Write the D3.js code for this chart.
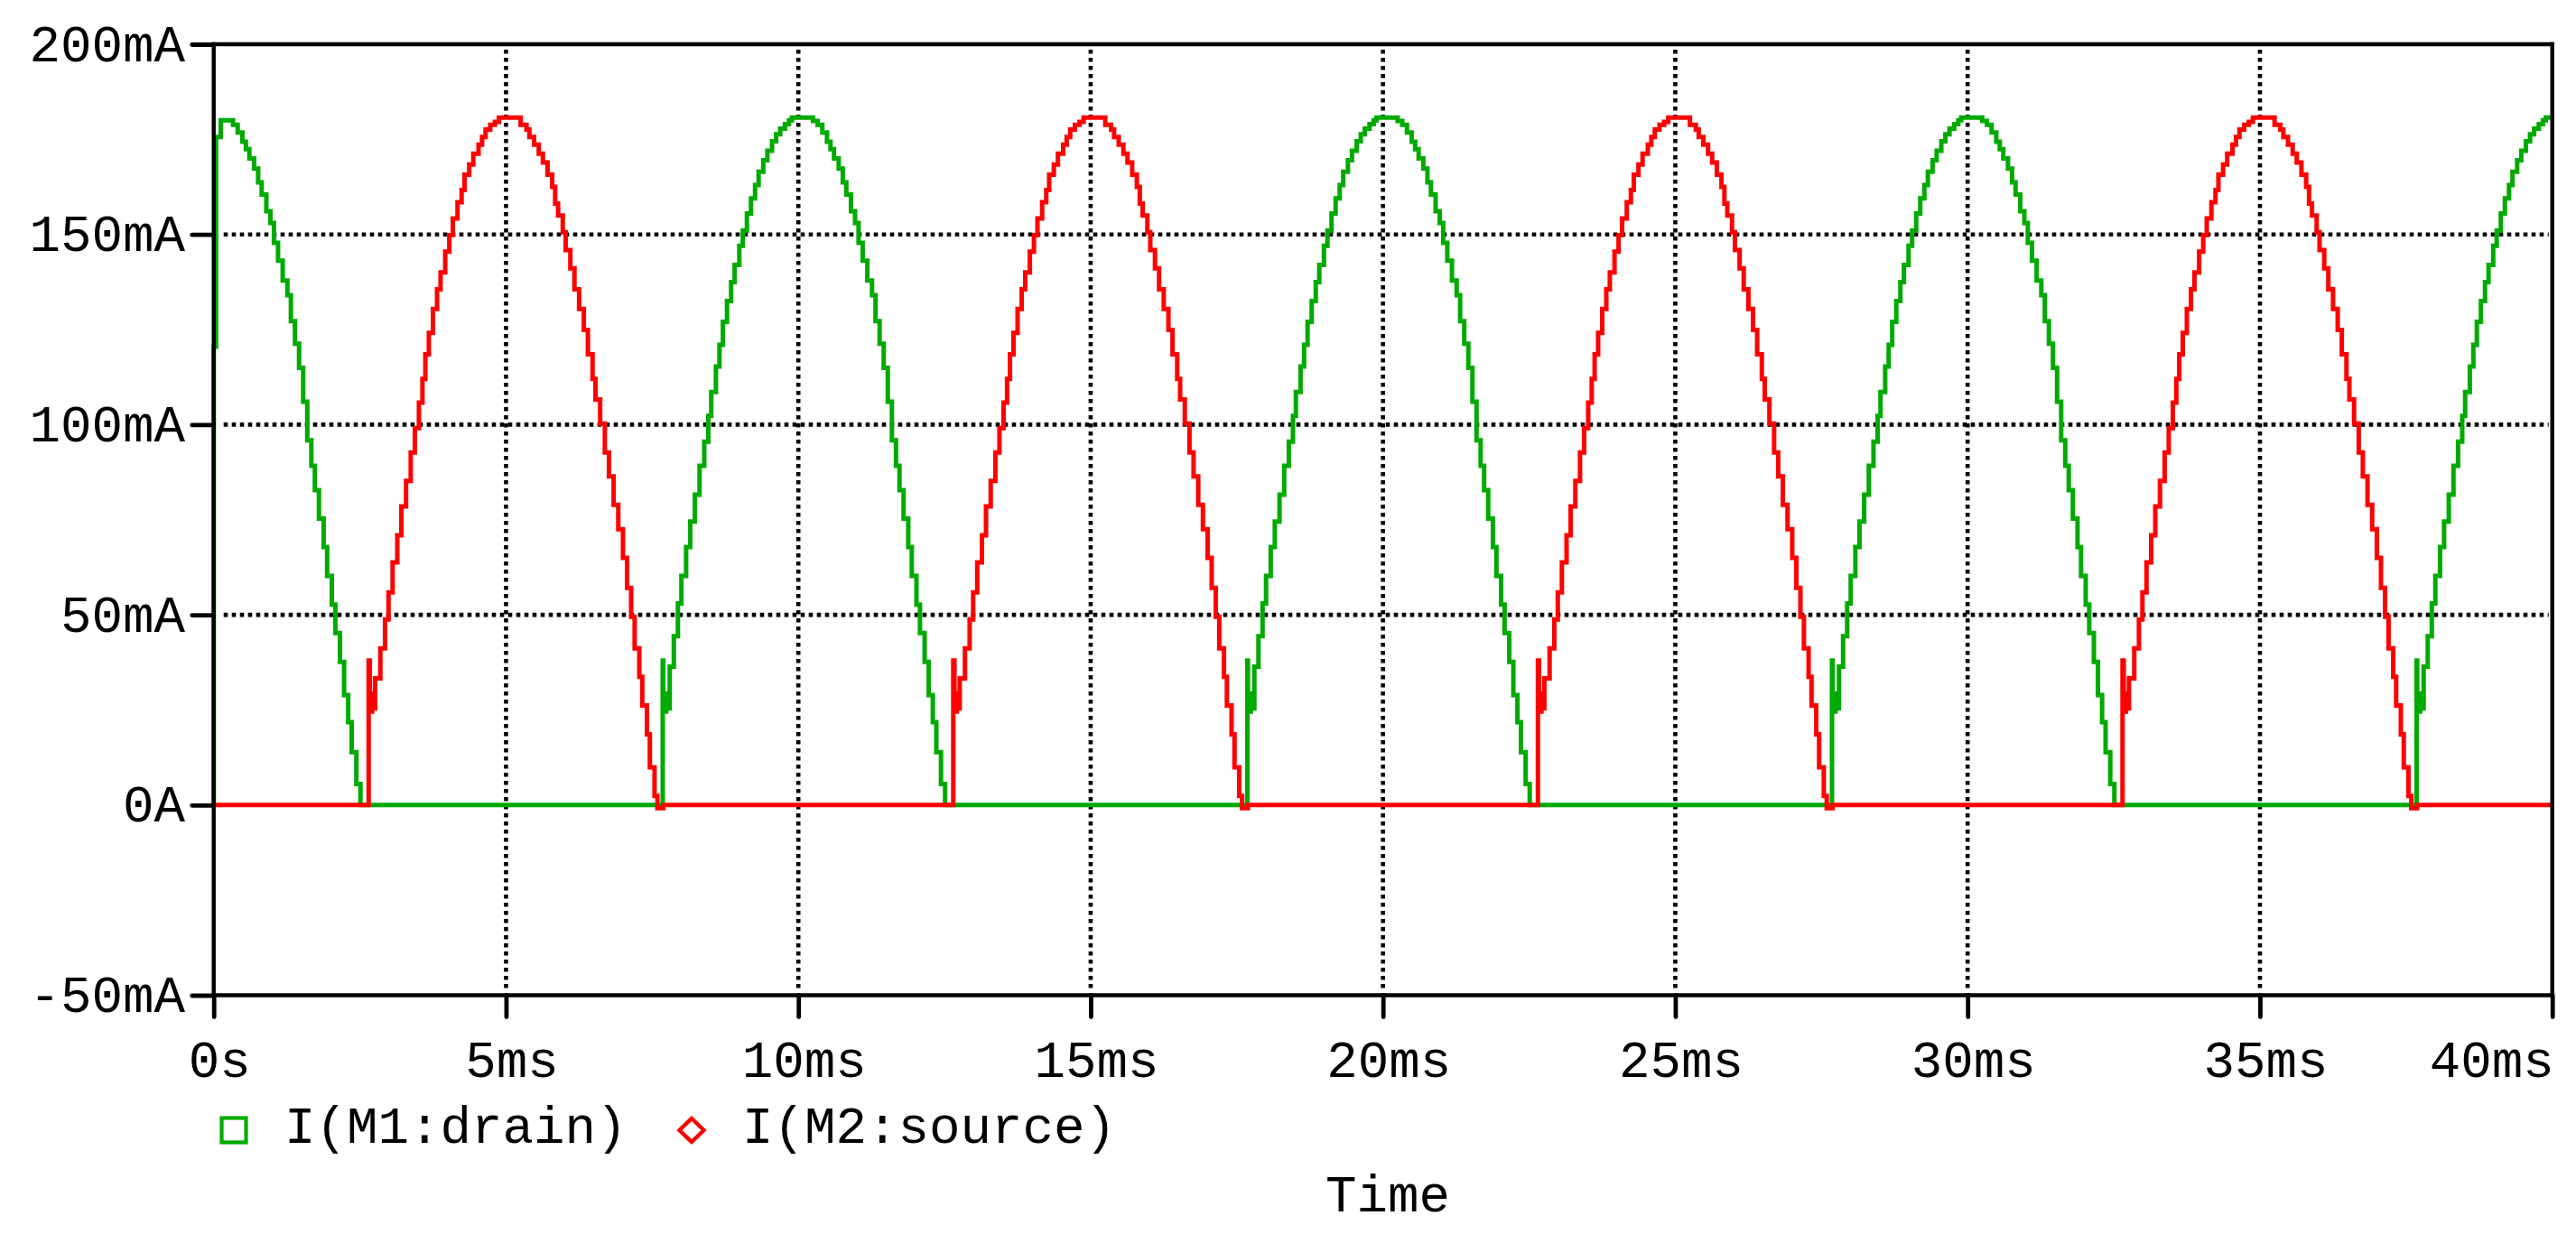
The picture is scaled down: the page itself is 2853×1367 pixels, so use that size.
<!DOCTYPE html>
<html><head><meta charset="utf-8">
<script src="https://cdn.jsdelivr.net/npm/d3@7"></script>
<style>html,body{margin:0;padding:0;background:#fff;overflow:hidden}</style>
</head><body>
<svg id="c" width="2853" height="1367"></svg>
<script>
// ---- axis data ----
const xTicks = [0, 5, 10, 15, 20, 25, 30, 35, 40];
const xTickLabels = ["0s", "5ms", "10ms", "15ms", "20ms", "25ms", "30ms", "35ms", "40ms"];
const yTicks = [-50, 0, 50, 100, 150, 200];
const yTickLabels = ["-50mA", "0A", "50mA", "100mA", "150mA", "200mA"];
const hGrid = [50, 100, 150];
const vGrid = [5, 10, 15, 20, 25, 30, 35];
const seriesNames = ["I(M1:drain)", "I(M2:source)"];
const xTitle = "Time";

// ---- I(M1:drain): first (start-up) half pulse, ms / mA ----
const greenFirstT = [0,0.001,0.04,0.12,0.28,0.33,0.41,0.49,0.55,0.61,0.69,0.76,0.82,0.90,0.97,1.03,1.10,1.18,1.26,1.32,1.39,1.46,1.53,1.60,1.67,1.73,1.80,1.88,1.94,2.02,2.08,2.16,2.23,2.30,2.36,2.44,2.51];
const greenFirstV = [0,120.5,175.6,180,180,178.8,176.8,174.4,172.4,170,167.3,163.7,160.5,156.1,153,147.8,143.1,137.9,134,127.2,121.3,114.9,106,95.9,89.2,82.8,75.3,67.8,60.2,52.7,45.2,37.6,28.9,21.8,13.9,5.5,0];
// I(M1:drain) pulse shape, time relative to pulse peak (ms) / mA
const greenPulseT = [-2.33,-2.32,-2.31,-2.26,-2.24,-2.20,-2.13,-2.06,-2.00,-1.92,-1.85,-1.77,-1.69,-1.61,-1.54,-1.49,-1.41,-1.35,-1.29,-1.22,-1.15,-1.09,-1.01,-0.95,-0.88,-0.81,-0.74,-0.68,-0.60,-0.53,-0.45,-0.38,-0.31,-0.23,-0.16,-0.11,0.16,0.25,0.33,0.41,0.49,0.55,0.61,0.69,0.76,0.82,0.90,0.97,1.03,1.10,1.18,1.26,1.32,1.39,1.46,1.53,1.60,1.67,1.73,1.80,1.88,1.94,2.02,2.08,2.16,2.23,2.30,2.36,2.44,2.51];
const greenPulseV = [0,38,24.6,29.3,25.4,36.4,44.4,53,60.2,67.8,74.5,81.6,89.2,95.5,102.3,108.6,115.3,121,127,132.5,137.5,142,147,151,155.5,159.5,163,166.5,169.5,172,174.5,176.3,177.8,179,180,180.7,180.7,179.8,178.8,176.8,174.4,172.4,170,167.3,163.7,160.5,156.1,153,147.8,143.1,137.9,134,127.2,121.3,114.9,106,95.9,89.2,82.8,75.3,67.8,60.2,52.7,45.2,37.6,28.9,21.8,13.9,5.5,0];
const greenPeaks = [10, 20, 30, 40];

// ---- I(M2:source) pulse shape, time relative to pulse peak (ms) / mA ----
const redPulseT = [-2.36,-2.35,-2.33,-2.29,-2.26,-2.24,-2.15,-2.07,-2.01,-1.94,-1.86,-1.79,-1.71,-1.63,-1.56,-1.49,-1.43,-1.38,-1.32,-1.25,-1.18,-1.12,-1.04,-0.97,-0.91,-0.83,-0.76,-0.71,-0.63,-0.56,-0.47,-0.41,-0.35,-0.27,-0.19,-0.12,0.15,0.25,0.35,0.40,0.48,0.56,0.63,0.71,0.79,0.84,0.89,0.97,1.02,1.10,1.17,1.25,1.33,1.40,1.48,1.53,1.61,1.69,1.76,1.84,1.92,2.00,2.07,2.14,2.20,2.28,2.33,2.41,2.46,2.54,2.59,2.69];
const redPulseV = [0,38,24.6,29.3,25.4,33.3,41.2,48.8,55.9,63.8,70.9,78.5,85.2,92.7,99.1,105.8,112,118.5,124.1,130.4,135.6,140,145.5,149.8,154.2,158.5,161.7,165.7,168.4,171.2,173.6,175.6,177.6,178.8,179.6,180.7,180.7,178.8,177.6,175.6,173.6,171.2,168.9,165.7,162.5,158.1,155,150.6,145.9,141.1,135.6,130.4,124.9,118.5,112,106.6,100.3,92.7,86.4,78.9,72.5,65,57.1,49.5,41.2,33.7,26.2,18.6,9.9,2.4,-0.8,0];
const redPeaks = [5, 15, 25, 35];

const GREEN = "#00aa00", RED = "#ff0000";
const W = 2853, H = 1367;
const L = 236.7, R = 2826.7, T = 49, B = 1102.5;
const FONT = '"Liberation Mono","Courier New",monospace';
const FS = 57.5;

const x = d3.scaleLinear().domain([0, 40]).range([L, R]);
const y = d3.scaleLinear().domain([-50, 200]).range([B, T]);
const svg = d3.select("#c");
svg.append("rect").attr("width", W).attr("height", H).attr("fill", "#fff");

// build series
function place(ts, vs, c) { return ts.map((t, i) => [c + t, vs[i]]); }
let greenData = greenFirstT.map((t, i) => [t, greenFirstV[i]]);
greenPeaks.forEach(c => { greenData = greenData.concat(place(greenPulseT, greenPulseV, c)); });
greenData = greenData.filter(d => d[0] <= 40);
greenData.push([40, greenData[greenData.length - 1][1]]);
let redData = [[0, 0]];
redPeaks.forEach(c => { redData = redData.concat(place(redPulseT, redPulseV, c)); });
redData.push([40, 0]);

// gridlines (dotted)
const grid = svg.append("g").attr("stroke", "#000").attr("stroke-width", 4.6)
  .attr("stroke-linecap", "butt").attr("stroke-dasharray", "4.6 4.4");
grid.selectAll("line.h").data(hGrid).join("line").attr("class", "h")
  .attr("x1", L + 11).attr("x2", R - 4).attr("y1", d => y(d)).attr("y2", d => y(d));
grid.selectAll("line.v").data(vGrid).join("line").attr("class", "v")
  .attr("x1", d => x(d)).attr("x2", d => x(d)).attr("y1", T + 6).attr("y2", B - 4);

// traces
const line = d3.line().x(d => x(d[0])).y(d => y(d[1])).curve(d3.curveStepAfter);
svg.append("path").datum(greenData).attr("d", line).attr("fill", "none")
  .attr("stroke", GREEN).attr("stroke-width", 5).attr("stroke-linejoin", "miter");
svg.append("path").datum(redData).attr("d", line).attr("fill", "none")
  .attr("stroke", RED).attr("stroke-width", 5).attr("stroke-linejoin", "miter");

// frame
const frame = svg.append("g").attr("stroke", "#000").attr("stroke-width", 4.4).attr("stroke-linecap", "square");
frame.append("line").attr("x1", L).attr("x2", R).attr("y1", T).attr("y2", T);
frame.append("line").attr("x1", L).attr("x2", R).attr("y1", B).attr("y2", B);
frame.append("line").attr("x1", L).attr("x2", L).attr("y1", T).attr("y2", B);
frame.append("line").attr("x1", R).attr("x2", R).attr("y1", T).attr("y2", B);

// axes
const yAxis = d3.axisLeft(y).tickValues(yTicks).tickFormat((d, i) => yTickLabels[i])
  .tickSize(24).tickSizeOuter(0).tickPadding(7.7);
const gy = svg.append("g").attr("transform", `translate(${L},0)`).call(yAxis);
gy.select(".domain").remove();
gy.selectAll(".tick line").attr("stroke", "#000").attr("stroke-width", 4.8).attr("stroke-linecap", "round");
gy.selectAll(".tick text").attr("font-family", FONT).attr("font-size", FS).attr("fill", "#000")
  .attr("dy", null).attr("y", 18);

const xAxis = d3.axisBottom(x).tickValues(xTicks).tickFormat((d, i) => xTickLabels[i])
  .tickSize(24).tickSizeOuter(0);
const gx = svg.append("g").attr("transform", `translate(0,${B})`).call(xAxis);
gx.select(".domain").remove();
gx.selectAll(".tick line").attr("stroke", "#000").attr("stroke-width", 4.8).attr("stroke-linecap", "round");
gx.selectAll(".tick text").attr("font-family", FONT).attr("font-size", FS).attr("fill", "#000")
  .attr("dy", null).attr("y", 90.5).attr("x", 6);
gx.selectAll(".tick text").filter((d, i) => i === xTicks.length - 1)
  .attr("text-anchor", "end").attr("x", 1.5);

// legend
const lg = svg.append("g").attr("font-family", FONT).attr("font-size", FS).attr("fill", "#000");
lg.append("rect").attr("x", 245.5).attr("y", 1238.5).attr("width", 27).attr("height", 27)
  .attr("fill", "none").attr("stroke", GREEN).attr("stroke-width", 4.2);
lg.append("text").attr("x", 315).attr("y", 1266).text(seriesNames[0]);
lg.append("path").attr("d", "M766,1239 L779.5,1252 L766,1265 L752.5,1252 Z")
  .attr("fill", "none").attr("stroke", RED).attr("stroke-width", 4.4);
lg.append("text").attr("x", 822).attr("y", 1266).text(seriesNames[1]);

// x title
svg.append("text").attr("x", 1537).attr("y", 1342).attr("text-anchor", "middle")
  .attr("font-family", FONT).attr("font-size", FS).attr("fill", "#000").text(xTitle);
</script>
</body></html>
